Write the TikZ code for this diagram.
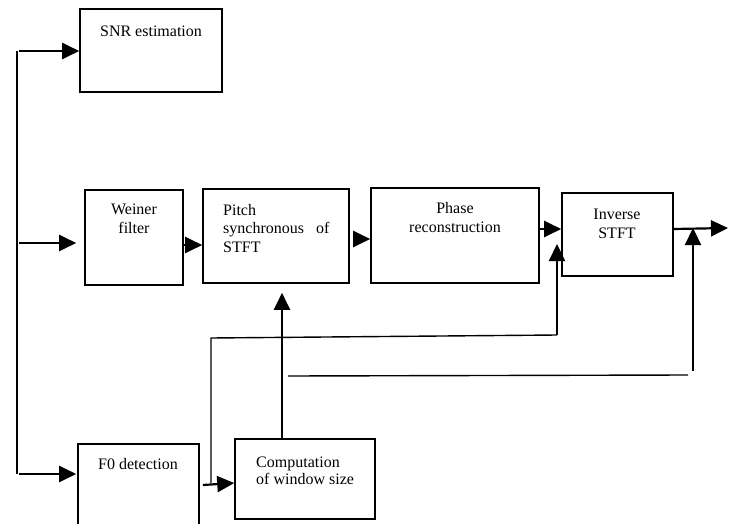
\documentclass[tikz,border=0pt]{standalone}
\usepackage{fontspec}
\setmainfont{Liberation Serif}
\usetikzlibrary{arrows.meta}
\begin{document}
\begin{tikzpicture}[x=1pt,y=-1pt,
  blk/.style={draw, line width=1.6pt, inner sep=0pt},
  lbl/.style={font=\fontsize{16}{18.5}\selectfont, inner sep=0pt, align=center},
  lbll/.style={font=\fontsize{16}{18.5}\selectfont, inner sep=0pt, align=left},
  arr/.style={line width=2.2pt, -{Triangle[length=17pt,width=16pt]}},
  wire/.style={line width=1.4pt},
  ]
\clip (0,0) rectangle (733,524);

% processing blocks
\node[blk, minimum width=142pt, minimum height=83pt] (snr)   at (151,50.5)  {};
\node[blk, minimum width=98pt,  minimum height=95pt] (wein)  at (134,237.5) {};
\node[blk, minimum width=146pt, minimum height=94pt] (pitch) at (276,236)   {};
\node[blk, minimum width=168pt, minimum height=95pt] (phase) at (455,235.5) {};
\node[blk, minimum width=111pt, minimum height=83pt] (inv)   at (617.5,234.5) {};
\node[blk, minimum width=121pt, minimum height=96pt] (f0)    at (138.5,492) {};
\node[blk, minimum width=140pt, minimum height=80pt] (comp)  at (305,479)   {};

% block captions (base anchor sits on the last line)
\node[lbl,  anchor=base] (snrtxt)   at (151,37)  {SNR estimation};
\node[lbl,  anchor=base] (weintxt)  at (134,233) {Weiner\\filter};
\node[lbll, anchor=base west] (pitchtxt) at (223,252) {Pitch\\synchronous\hspace{8pt} of\\STFT};
\node[lbl,  anchor=base] (phasetxt) at (455,232) {Phase\\reconstruction};
\node[lbl,  anchor=base] (invtxt)   at (617,238) {Inverse\\STFT};
\node[lbl,  anchor=base] (f0txt)    at (138,469) {F0 detection};
\node[lbll, anchor=base west, font=\fontsize{16}{17}\selectfont] (comptxt) at (256,484) {Computation\\of window size};

% input bus
\coordinate (bustop) at (17,51);
\coordinate (busmid) at (17,243);
\coordinate (busbot) at (17,474);
\draw[wire] (bustop) -- (busbot);
\draw[arr] ([xshift=2pt]bustop) -- (snr.west |- bustop);
\draw[arr] ([xshift=2pt]busmid) -- ([xshift=-8pt]wein.west |- busmid);
\draw[arr] ([xshift=2pt]busbot) -- ([xshift=-1pt]f0.west |- busbot);

% main chain
\draw[arr] (wein.east |- 0,245) -- (pitch.west |- 0,245);
\draw[arr] ([xshift=4pt]pitch.east |- 0,239) -- (phase.west |- 0,239);
\draw[arr] ([xshift=-2pt]phase.east |- 0,229) -- (inv.west |- 0,229);
\coordinate (out) at (728,228);
\draw[arr] (inv.east |- 0,229) -- (out);

% pitch branch
\draw[arr] ([xshift=3pt]f0.east |- 0,485) -- (comp.west |- 0,483);
\draw[arr, shorten >=9pt] (comp.north -| 282,0) -- (pitch.south -| 282,0);

% window size feedback to the inverse transform
\coordinate (ta) at (211,483);
\coordinate (tb) at (211,338);
\coordinate (tc) at (557,335);
\coordinate (td) at (557,244);
\draw[wire] (ta) -- (tb) -- (tc);
\draw[arr] (tc) -- (td);

\coordinate (ua) at (288,376);
\coordinate (ub) at (688,375);
\coordinate (uc) at (693,371);
\draw[wire] (ua) -- (ub);
\draw[arr] (uc) -- (out -| uc);
\end{tikzpicture}
\end{document}
